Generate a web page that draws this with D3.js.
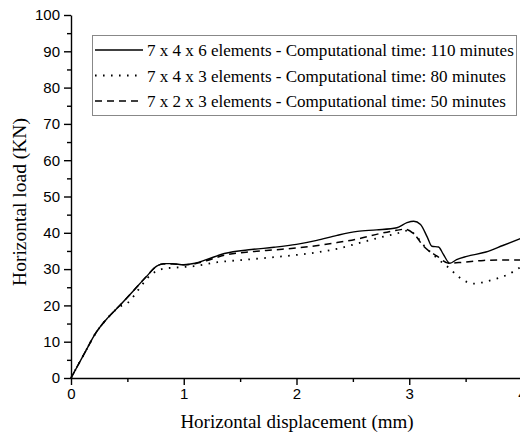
<!DOCTYPE html>
<html>
<head>
<meta charset="utf-8">
<script src="https://cdn.jsdelivr.net/npm/d3@7"></script>
<style>
  body { margin: 0; background: #fff; }
  svg { display: block; }
</style>
</head>
<body>
<div class="content"></div>
<script>
// series: [displacement (mm), load (KN)]
const fine = [[0,0],[0.13,7.4],[0.22,12.4],[0.33,16.7],[0.43,19.9],[0.55,23.9],[0.67,28.0],[0.76,30.8],[0.82,31.5],[0.9,31.5],[1.0,31.2],[1.1,31.6],[1.2,32.6],[1.36,34.3],[1.6,35.4],[1.8,36.0],[2.0,36.8],[2.18,37.9],[2.36,39.3],[2.54,40.4],[2.71,40.8],[2.89,41.4],[2.98,42.8],[3.04,43.2],[3.1,42.3],[3.16,38.8],[3.2,36.3],[3.26,36.1],[3.3,34.2],[3.36,31.6],[3.42,32.6],[3.51,33.5],[3.68,34.7],[3.83,36.5],[4.0,38.6]];
const medium = [[0,0],[0.13,7.4],[0.22,12.4],[0.33,16.7],[0.43,19.6],[0.5,20.6],[0.6,24.4],[0.68,27.6],[0.76,29.5],[0.84,30.2],[0.97,30.5],[1.09,30.8],[1.3,31.9],[1.51,32.5],[1.7,33.0],[2.0,33.9],[2.18,34.6],[2.36,35.6],[2.57,37.3],[2.74,38.7],[2.89,39.8],[2.98,40.6],[3.04,39.8],[3.13,36.5],[3.25,32.9],[3.36,30.1],[3.44,27.8],[3.57,26.0],[3.72,26.9],[3.86,28.3],[4.0,30.8]];
const coarse = [[0,0],[0.13,7.4],[0.22,12.4],[0.33,16.7],[0.43,19.9],[0.55,23.9],[0.67,28.0],[0.76,30.8],[0.82,31.4],[0.9,31.4],[1.0,31.2],[1.1,31.5],[1.2,32.3],[1.36,33.8],[1.6,34.8],[1.8,35.3],[2.0,35.8],[2.36,37.3],[2.57,38.5],[2.74,39.8],[2.89,40.7],[2.96,41.0],[3.04,39.7],[3.13,36.2],[3.25,33.5],[3.35,31.6],[3.48,31.9],[3.66,32.4],[3.83,32.5],[4.0,32.5]];
const seriesNames = [
  "7 x 4 x 6 elements - Computational time: 110 minutes",
  "7 x 4 x 3 elements - Computational time: 80 minutes",
  "7 x 2 x 3 elements - Computational time: 50 minutes"
];
const xTicks = [0, 1, 2, 3, 4];
const yTicks = [0, 10, 20, 30, 40, 50, 60, 70, 80, 90, 100];

function main() {
  const svgW = 520, svgH = 435;
  const svg = d3.select('.content').append('svg')
    .attr('width', svgW)
    .attr('height', svgH);

  // scales: plot origin at (71, 378)
  const x = d3.scaleLinear().domain([0, 4]).range([71, 522]);
  const y = d3.scaleLinear().domain([0, 100]).range([378, 15]);

  const tickFont = 'Liberation Sans, Arial, sans-serif';
  const serif = 'Liberation Serif, Times New Roman, serif';

  // minor ticks first
  svg.append('g')
    .attr('transform', 'translate(0,' + y(0) + ')')
    .call(d3.axisBottom(x).tickValues(d3.range(0.5, 4, 1)).tickSize(4).tickFormat(''))
    .call(g => g.select('.domain').remove());
  svg.append('g')
    .attr('transform', 'translate(' + x(0) + ',0)')
    .call(d3.axisLeft(y).tickValues(d3.range(5, 100, 10)).tickSize(4).tickFormat(''))
    .call(g => g.select('.domain').remove());

  // main axes
  svg.append('g')
    .attr('transform', 'translate(0,' + y(0) + ')')
    .call(d3.axisBottom(x).tickValues(xTicks).tickSize(7).tickSizeOuter(0).tickPadding(3).tickFormat(d3.format('d')));
  svg.append('g')
    .attr('transform', 'translate(' + x(0) + ',0)')
    .call(d3.axisLeft(y).tickValues(yTicks).tickSize(7).tickSizeOuter(0).tickPadding(4).tickFormat(d3.format('d')));

  svg.selectAll('.tick text')
    .attr('font-family', tickFont)
    .attr('font-size', 15)
    .attr('fill', '#000');
  svg.selectAll('.domain, .tick line')
    .attr('stroke', '#000')
    .attr('stroke-width', 1.4);

  // axis titles
  svg.append('text')
    .attr('x', 297).attr('y', 428)
    .attr('text-anchor', 'middle')
    .attr('font-family', serif).attr('font-size', 19)
    .text('Horizontal displacement (mm)');
  svg.append('text')
    .attr('transform', 'translate(26,202) rotate(-90)')
    .attr('text-anchor', 'middle')
    .attr('font-family', serif).attr('font-size', 19.5)
    .text('Horizontal load (KN)');

  // curves
  const line = d3.line()
    .x(d => x(d[0]))
    .y(d => y(d[1]))
    .curve(d3.curveMonotoneX);
  const styles = [
    { dash: null, width: 1.4 },
    { dash: '1.6,6.4', width: 1.8 },
    { dash: '7,5', width: 1.5 }
  ];
  [fine, medium, coarse].forEach((data, i) => {
    svg.append('path').datum(data)
      .attr('d', line)
      .attr('fill', 'none')
      .attr('stroke', '#000')
      .attr('stroke-width', styles[i].width)
      .attr('stroke-dasharray', styles[i].dash);
  });

  // legend
  const lg = svg.append('g');
  lg.append('rect')
    .attr('x', 92.5).attr('y', 35.5)
    .attr('width', 424).attr('height', 80)
    .attr('fill', '#fff')
    .attr('stroke', '#888').attr('stroke-width', 1);
  const labels = seriesNames.map((name, i) => {
    const cy = 50 + i * 25.5;
    lg.append('line')
      .attr('x1', 95).attr('x2', 143)
      .attr('y1', cy).attr('y2', cy)
      .attr('stroke', '#000')
      .attr('stroke-width', styles[i].width)
      .attr('stroke-dasharray', styles[i].dash);
    return lg.append('text')
      .attr('x', 147).attr('y', cy + 6)
      .attr('font-family', serif).attr('font-size', 16)
      .text(name);
  });
  // fit the longest label into the box (ends near x = 514)
  const w0 = labels[0].node().getComputedTextLength();
  const fs = 16 * 367 / w0;
  labels.forEach(t => t.attr('font-size', fs));
}
main();
</script>
</body>
</html>
